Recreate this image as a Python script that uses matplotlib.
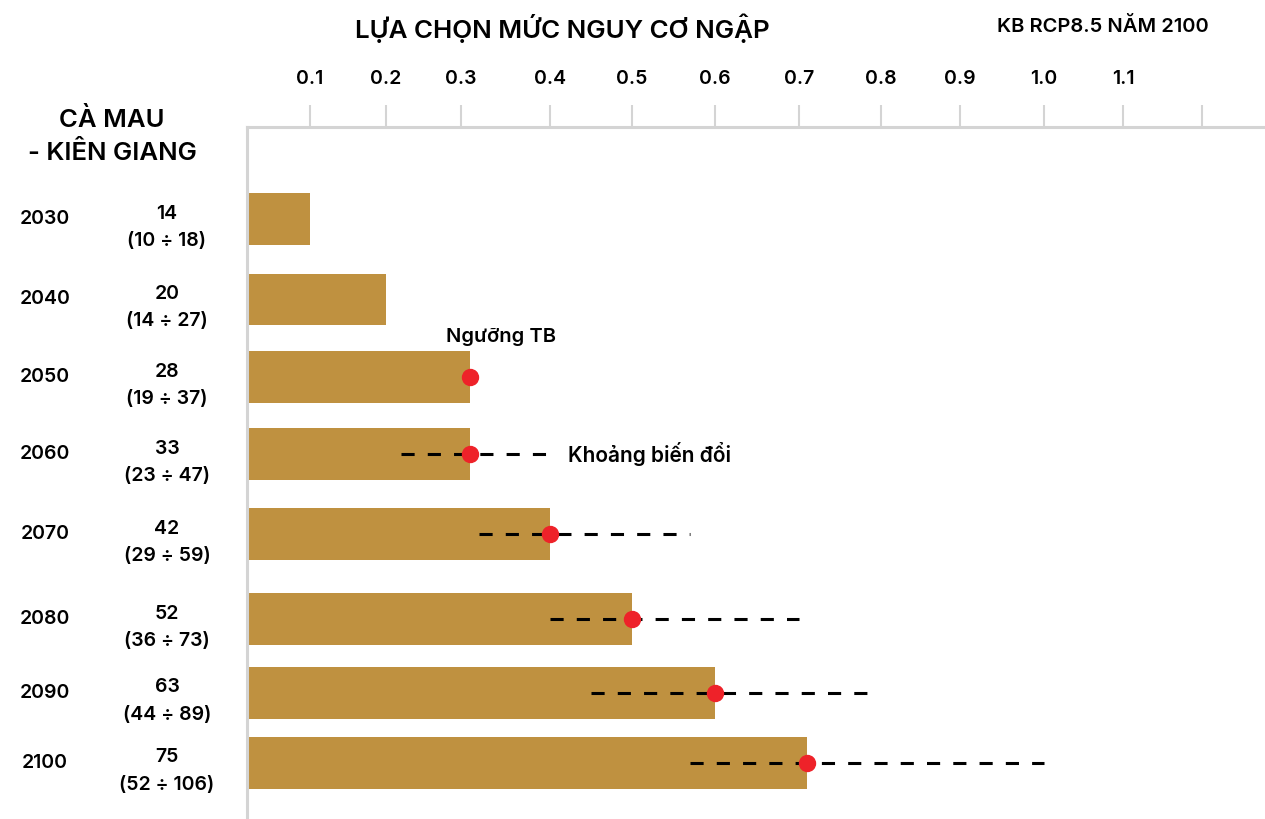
import numpy as np
import matplotlib
matplotlib.use('Agg')
import matplotlib.pyplot as plt
from matplotlib.transforms import blended_transform_factory

plt.rcParams['font.family'] = ['Inter', 'Noto Sans', 'DejaVu Sans']

# data
years = ['2030', '2040', '2050', '2060', '2070', '2080', '2090', '2100']
sea_level = ['14', '20', '28', '33', '42', '52', '63', '75']
sea_range = ['(10 ÷ 18)', '(14 ÷ 27)', '(19 ÷ 37)', '(23 ÷ 47)',
             '(29 ÷ 59)', '(36 ÷ 73)', '(44 ÷ 89)', '(52 ÷ 106)']
risk_level = [0.10, 0.20, 0.31, 0.31, 0.40, 0.50, 0.60, 0.71]
has_threshold = [False, False, True, True, True, True, True, True]
range_low = [None, None, None, 0.22, 0.32, 0.40, 0.45, 0.57]
range_high = [None, None, None, 0.40, 0.57, 0.70, 0.79, 1.00]
tick_labels = ['0.1', '0.2', '0.3', '0.4', '0.5', '0.6', '0.7', '0.8',
               '0.9', '1.0', '1.1', '']

# layout: the axis of the original is not linear, so map values to
# screen positions piecewise between the tick marks
knot_val = np.array([-0.05, 0.0, 0.1, 0.2, 0.3, 0.4, 0.5, 0.6, 0.7, 0.8,
                     0.9, 1.0, 1.1, 1.2, 1.3])
knot_pos = np.array([245, 249, 310, 385.7, 460.7, 550, 631.7, 715, 799.3,
                     880.7, 960, 1044, 1123.3, 1201.7, 1280])
row_pos = [0, 1.031, 2.036, 3.028, 4.053, 5.148, 6.101, 7.003]

bar_color = '#BF9140'
dot_color = '#EE2229'
axis_gray = '#D4D4D4'
fw = 'semibold'


def forward(v):
    return np.interp(v, knot_val, knot_pos)


def inverse(p):
    return np.interp(p, knot_pos, knot_val)


fig = plt.figure(figsize=(12.65, 8.19), dpi=100)
ax = fig.add_axes([247 / 1265, 0, 1 - 247 / 1265, 1 - 127 / 819])
ax.set_xscale('function', functions=(forward, inverse))
ax.set_xlim(inverse(247), inverse(1265))
ax.set_ylim(7.726, -1.192)

ax.barh(row_pos, risk_level, height=0.67, color=bar_color, left=0)

for i in range(len(years)):
    if range_low[i] is not None:
        ax.plot([range_low[i], range_high[i]], [row_pos[i], row_pos[i]],
                color='black', lw=2.2, linestyle=(0, (4.3, 4.3)), zorder=3)
    if has_threshold[i]:
        ax.plot(risk_level[i], row_pos[i], 'o', color=dot_color,
                markersize=11.5, zorder=4)

ax.set_xticks(knot_val[2:14])
ax.set_xticklabels(tick_labels)
ax.xaxis.tick_top()
ax.tick_params(axis='x', length=16, width=1.5, color=axis_gray, pad=12,
               labelsize=14)
for lab in ax.get_xticklabels():
    lab.set_fontweight(fw)
ax.set_yticks([])
for side in ['right', 'bottom']:
    ax.spines[side].set_visible(False)
for side in ['top', 'left']:
    ax.spines[side].set_color(axis_gray)
    ax.spines[side].set_linewidth(2.2)

# row labels on the left
tr = blended_transform_factory(fig.transFigure, ax.transData)
for i in range(len(years)):
    ax.text(45 / 1265, row_pos[i], years[i], transform=tr, ha='center',
            va='center', fontsize=14, fontweight=fw, clip_on=False)
    ax.text(167 / 1265, row_pos[i] - 0.07, sea_level[i], transform=tr,
            ha='center', va='center', fontsize=14, fontweight=fw,
            clip_on=False)
    ax.text(167 / 1265, row_pos[i] + 0.28, sea_range[i], transform=tr,
            ha='center', va='center', fontsize=14, fontweight=fw,
            clip_on=False)

ax.text(0.345, 1.514, 'Ngưỡng TB', ha='center', va='center', fontsize=14.5,
        fontweight=fw)
ax.text(0.422, row_pos[3], 'Khoảng biến đổi', ha='left', va='center',
        fontsize=15, fontweight=fw)

fig.text(112 / 1265, 1 - 120 / 819, 'CÀ MAU', ha='center', va='center',
         fontsize=18.5, fontweight=fw)
fig.text(112 / 1265, 1 - 153 / 819, '- KIÊN GIANG', ha='center', va='center',
         fontsize=18.5, fontweight=fw)
fig.text(562 / 1265, 1 - 28 / 819, 'LỰA CHỌN MỨC NGUY CƠ NGẬP', ha='center',
         va='center', fontsize=18.7, fontweight=fw)
fig.text(1103 / 1265, 1 - 27 / 819, 'KB RCP8.5 NĂM 2100', ha='center',
         va='center', fontsize=14.5, fontweight=fw)

fig.savefig('out.png', dpi=100)
